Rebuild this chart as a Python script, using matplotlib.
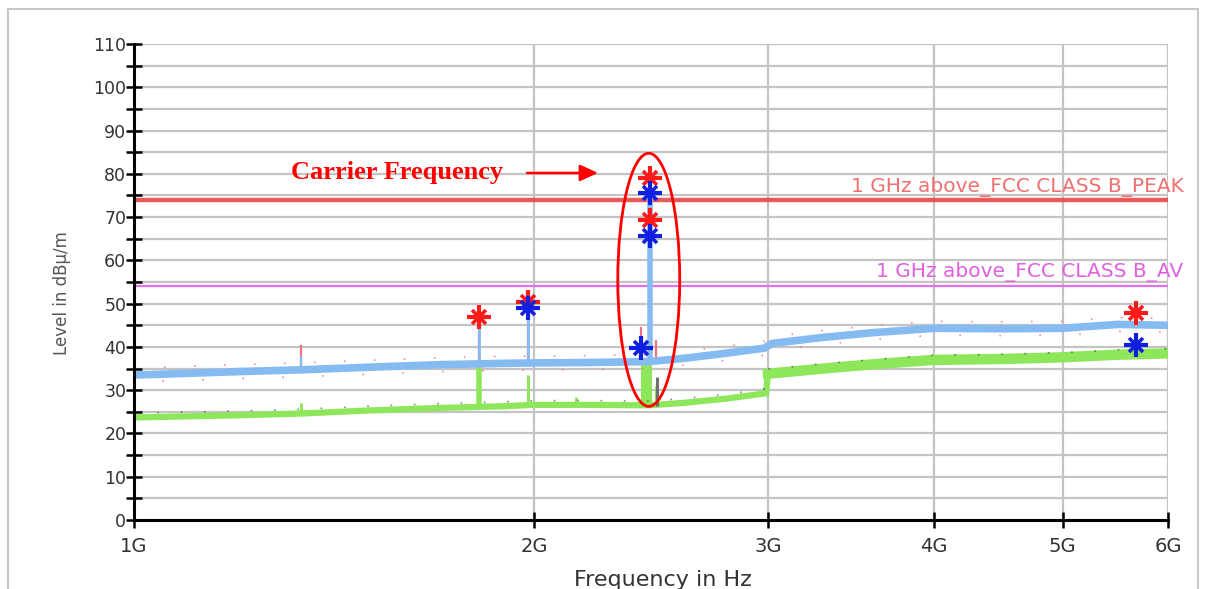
import numpy as np
import matplotlib
matplotlib.use("Agg")
import matplotlib.pyplot as plt
from matplotlib.patches import Ellipse, Rectangle
from matplotlib.ticker import FixedLocator, MultipleLocator, NullFormatter

GHZ = 1e9

# ---- data (frequencies in GHz, levels in dBuV/m) ----
peak_freq_ghz = [1.0, 1.1, 1.2, 1.335, 1.5, 1.7, 1.9, 2.0, 2.2, 2.44, 2.6, 2.8,
                 2.98, 3.02, 3.3, 3.6, 4.0, 4.5, 5.0, 5.5, 6.0]
peak_level = [33.5, 33.9, 34.3, 34.7, 35.3, 35.9, 36.2, 36.3, 36.4, 36.6, 37.4, 38.6,
              39.7, 40.8, 42.2, 43.3, 44.3, 44.2, 44.3, 45.2, 45.0]

avg_freq_ghz = [1.0, 1.2, 1.335, 1.5, 1.7, 1.9, 2.0, 2.2, 2.44, 2.6, 2.8, 2.99,
                3.0, 3.3, 3.6, 4.0, 4.5, 5.0, 5.5, 6.0]
avg_level = [23.4, 23.9, 24.3, 25.0, 25.6, 26.0, 26.3, 26.3, 26.2, 26.8, 27.8, 29.0,
             33.6, 34.8, 35.8, 36.8, 37.0, 37.4, 38.0, 38.3]

red_spike_freq = [1.335, 1.818, 1.979, 2.407, 2.444, 2.47]
red_spike_top = [40.5, 46.9, 50.4, 44.5, 79.0, 41.5]
blue_spike_freq = [1.335, 1.818, 1.979, 2.407, 2.444]
blue_spike_top = [38.0, 45.0, 49.0, 39.7, 75.6]
green_spike_freq = [1.335, 1.818, 1.979, 2.15, 2.47]
green_spike_top = [27.0, 36.0, 33.5, 28.5, 31.0]
green_hump_freq = [2.43]
green_hump_top = [36.0]
black_spike_freq = [2.475]
black_spike_top = [33.0]

peak_marker_freq = [1.818, 1.979, 2.444, 2.444, 5.675]
peak_marker_level = [46.9, 50.4, 79.0, 69.3, 47.8]
avg_marker_freq = [1.979, 2.444, 2.444, 2.407, 5.675]
avg_marker_level = [49.0, 75.6, 65.6, 39.7, 40.4]

limit_peak = 74.0
limit_av = 54.0
limit_peak_label = "1 GHz above_FCC CLASS B_PEAK"
limit_av_label = "1 GHz above_FCC CLASS B_AV"

x_ticks_ghz = [1, 2, 3, 4, 5, 6]
x_tick_labels = ["1G", "2G", "3G", "4G", "5G", "6G"]

carrier_text = "Carrier Frequency"
carrier_text_pos = (1.313, 80.2)
carrier_arrow = ((1.976, 80.2), (2.235, 80.2))
ellipse_center = (2.44, 55.5)
ellipse_span_ghz = (2.313, 2.575)
ellipse_span_level = (26.3, 84.8)

# ---- colours ----
C_BLUE = "#86bbf2"
C_PINK = "#f07088"
C_GREEN = "#8ee65a"
C_BLACK = "#303030"
C_RED_LIM = "#e84848"
C_MAG_LIM = "#e070e8"
C_GRID = "#c4c4c4"

plt.rcParams["font.family"] = ["DejaVu Sans"]

W, H = 1207, 589
fig = plt.figure(figsize=(W / 100, H / 100), dpi=100)
fig.patch.set_facecolor("white")
fig.patches.append(Rectangle((8 / W, -0.02), (1198 - 8) / W, 1 - 9 / H + 0.02,
                             transform=fig.transFigure, fill=False,
                             edgecolor="#c8c8c8", linewidth=1.5))

ax = fig.add_axes([134 / W, 1 - 520 / H, (1168 - 134) / W, (520 - 44) / H])
ax.set_xscale("log")
ax.set_xlim(1 * GHZ, 6 * GHZ)
ax.set_ylim(0, 110)

pf = np.array(peak_freq_ghz) * GHZ
af = np.array(avg_freq_ghz) * GHZ
al = np.array(avg_level)

def base(freqs, fx, ly):
    return np.interp(np.log10(np.array(freqs) * GHZ), np.log10(fx), ly)

# grid
ax.yaxis.set_major_locator(MultipleLocator(10))
ax.yaxis.set_minor_locator(MultipleLocator(5))
ax.xaxis.set_major_locator(FixedLocator([v * GHZ for v in x_ticks_ghz]))
ax.xaxis.set_minor_locator(FixedLocator([]))
ax.xaxis.set_minor_formatter(NullFormatter())
ax.set_xticklabels(x_tick_labels)
ax.grid(True, which="both", axis="y", color=C_GRID, linewidth=1.6, zorder=0)
ax.grid(True, which="major", axis="x", color=C_GRID, linewidth=1.6, zorder=0)
ax.set_axisbelow(True)

# limit lines
ax.axhline(limit_peak, color=C_RED_LIM, linewidth=3.2, alpha=0.9, zorder=2)
ax.axhline(limit_av, color=C_MAG_LIM, linewidth=1.6, zorder=2)
ax.text(1.015, limit_peak + 3.0, limit_peak_label, transform=ax.get_yaxis_transform(),
        ha="right", va="center", color="#f07070", fontsize=14.5, zorder=3)
ax.text(1.015, limit_av + 3.2, limit_av_label, transform=ax.get_yaxis_transform(),
        ha="right", va="center", color="#e060e0", fontsize=14.5, zorder=3)

# average traces (green, with sparse black points)
low = af <= 2.995 * GHZ
n_hi = int((~low).sum())
ax.plot(af[low], al[low] + 0.3, color=C_GREEN, linewidth=4.5, zorder=3)
ax.plot(af[~low], al[~low] + 0.2, color=C_GREEN, linewidth=7.5, zorder=3)
ax.plot(af[-n_hi - 1:-n_hi + 1], al[-n_hi - 1:-n_hi + 1] + 0.3,
        color=C_GREEN, linewidth=4.5, zorder=3)
ax.vlines(np.array(green_spike_freq) * GHZ, base(green_spike_freq, af, avg_level),
          green_spike_top, color=C_GREEN, linewidth=[2.2, 4.0, 2.2, 2.0, 2.2], zorder=3)
ax.vlines(np.array(green_hump_freq) * GHZ, base(green_hump_freq, af, avg_level),
          green_hump_top, color=C_GREEN, linewidth=8, zorder=3)
ax.vlines(np.array(black_spike_freq) * GHZ, base(black_spike_freq, af, avg_level),
          black_spike_top, color="#707070", linewidth=2.2, zorder=3)
ax.plot(af, al + 1.3, color=C_BLACK, linewidth=1.2,
        linestyle=(0, (1, 13)), alpha=0.55, zorder=4)

# peak traces (pink flecks under light blue)
ax.vlines(np.array(red_spike_freq) * GHZ, base(red_spike_freq, pf, peak_level),
          red_spike_top, color=C_PINK, linewidth=1.6, zorder=4)
ax.plot(pf, np.array(peak_level) + 1.6, color=C_PINK, linewidth=1.2,
        linestyle=(0, (1, 17)), alpha=0.8, zorder=4)
ax.plot(pf, np.array(peak_level) - 1.6, color=C_PINK, linewidth=1.2,
        linestyle=(7, (1, 23)), alpha=0.8, zorder=4)
ax.plot(pf, peak_level, color=C_BLUE, linewidth=5.5, zorder=5)
ax.vlines(np.array(blue_spike_freq) * GHZ, base(blue_spike_freq, pf, peak_level),
          blue_spike_top, color=C_BLUE, linewidth=[1.6, 2.0, 2.0, 2.0, 4.0], zorder=5)

# markers (asterisk-like: plus + cross)
for fr, lv, col in ((peak_marker_freq, peak_marker_level, "#ff1a1a"),
                    (avg_marker_freq, avg_marker_level, "#1020e0")):
    ax.plot(np.array(fr) * GHZ, lv, linestyle="none", marker="+", markersize=17,
            markeredgewidth=3.0, color=col, zorder=7)
    ax.plot(np.array(fr) * GHZ, lv, linestyle="none", marker="x", markersize=10,
            markeredgewidth=2.6, color=col, zorder=7)

# annotation
ax.text(carrier_text_pos[0] * GHZ, carrier_text_pos[1], carrier_text,
        family=["Liberation Serif"], fontweight="bold", fontsize=19, color="#ff0000",
        ha="left", va="center", zorder=8)
(x0, y0), (x1, y1) = carrier_arrow
ax.annotate("", xy=(x1 * GHZ, y1), xytext=(x0 * GHZ, y0),
            arrowprops=dict(arrowstyle="-|>,head_length=1.1,head_width=0.5",
                            color="#ff0000", linewidth=1.8, shrinkA=0, shrinkB=0),
            zorder=8)
fig.canvas.draw()
to_axes = ax.transData + ax.transAxes.inverted()
cx, cy = to_axes.transform((ellipse_center[0] * GHZ, ellipse_center[1]))
lx, by = to_axes.transform((ellipse_span_ghz[0] * GHZ, ellipse_span_level[0]))
rx, ty = to_axes.transform((ellipse_span_ghz[1] * GHZ, ellipse_span_level[1]))
ax.add_patch(Ellipse((cx, cy), rx - lx, ty - by, transform=ax.transAxes,
                     fill=False, edgecolor="#ff0000", linewidth=2.0, zorder=8))

# spines / ticks
for s in ("top", "right"):
    ax.spines[s].set_visible(False)
for s in ("left", "bottom"):
    ax.spines[s].set_linewidth(2.2)
    ax.spines[s].set_color("black")
    ax.spines[s].set_zorder(6)
ax.tick_params(axis="y", which="major", direction="inout", length=11, width=1.8,
               labelsize=12.5, labelcolor="#333333", pad=0)
ax.tick_params(axis="y", which="minor", direction="inout", length=11, width=1.8)
ax.tick_params(axis="x", which="major", direction="inout", length=11, width=1.8,
               labelsize=14, labelcolor="#333333", pad=7)

ax.set_ylabel("Level in dBµ/m", fontsize=12, color="#555555")
ax.yaxis.set_label_coords((62 - 134) / 1034, (520 - 293) / 476)
ax.set_xlabel("Frequency in Hz", fontsize=16, color="#333333")
ax.xaxis.set_label_coords((663 - 134) / 1034, -(580 - 520) / 476)
ax.xaxis.label.set_va("center")
ax.yaxis.label.set_va("center")

fig.savefig("out.png", dpi=100)
